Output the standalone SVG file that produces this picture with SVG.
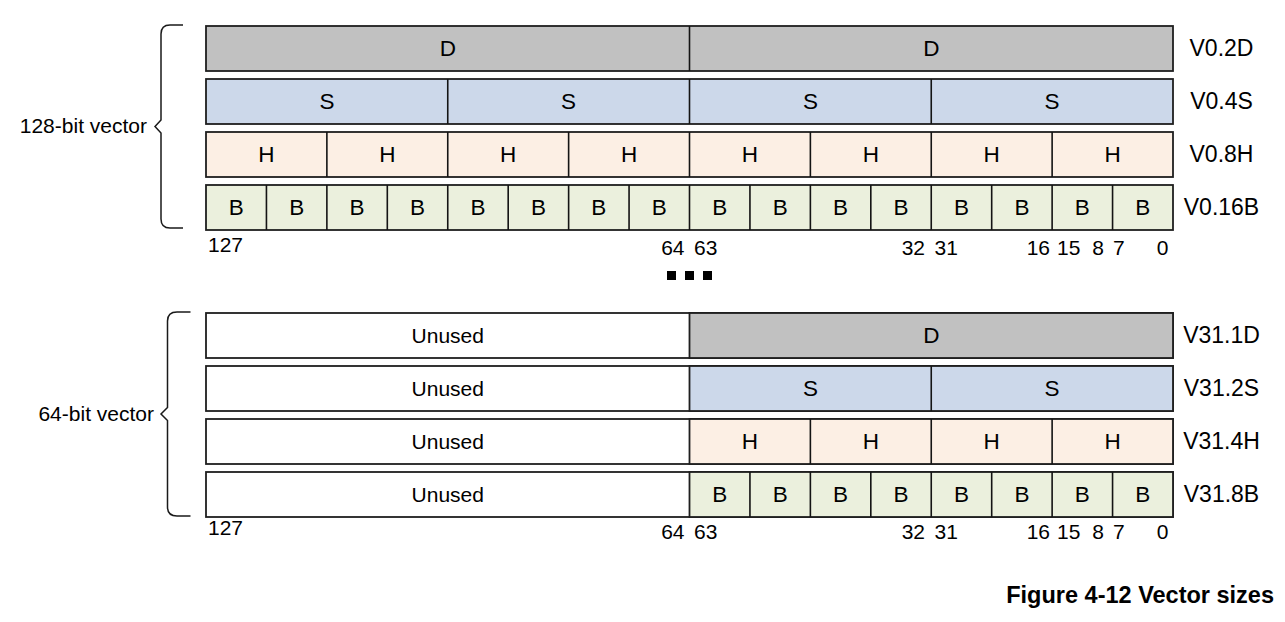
<svg xmlns="http://www.w3.org/2000/svg" width="1285" height="622" viewBox="0 0 1285 622">
<style>
text{font-family:"Liberation Sans",Arial,sans-serif;fill:#000}
.c{font-size:22.5px;text-anchor:middle}
.r{font-size:23px;text-anchor:middle}
.n{font-size:21px}
.e{text-anchor:end}
.box{stroke:#1e1e1e;stroke-width:1.8}
.dv{stroke:#141414;stroke-width:1.6}
.D{fill:#c1c1c1}.S{fill:#ccd8ea}.H{fill:#fcefe4}.B{fill:#ebf0dd}.U{fill:#fff}
.br{fill:none;stroke:#1a1a1a;stroke-width:1.5}
</style>
<rect width="1285" height="622" fill="#fff"/>
<g id="braces">
<path class="br" d="M183,25 L170,25 Q161,25 161,34 L161,120 L155,126.5 L161,133 L161,219 Q161,228 170,228 L183,228"/>
<path class="br" d="M190.5,312 L177,312 Q167.5,312 167.5,321 L167.5,407.5 L161,414 L167.5,420.5 L167.5,507 Q167.5,516 177,516 L190.5,516"/>
</g>
<text id="label-128" class="n e" x="147" y="133">128-bit vector</text>
<text id="label-64" class="n e" x="154" y="421">64-bit vector</text>
<g id="V0.2D">
<rect class="box D" x="206" y="26" width="967" height="45"/>
<line class="dv" x1="689.5" y1="26" x2="689.5" y2="71"/>
<text class="c" x="447.75" y="56">D</text><text class="c" x="931.25" y="56">D</text>
<text class="r" x="1221.5" y="56">V0.2D</text>
</g>
<g id="V0.4S">
<rect class="box S" x="206" y="79" width="967" height="45"/>
<path class="dv" d="M447.75,79V124M689.5,79V124M931.25,79V124"/>
<text class="c" x="326.9" y="109">S</text><text class="c" x="568.6" y="109">S</text><text class="c" x="810.4" y="109">S</text><text class="c" x="1052.1" y="109">S</text>
<text class="r" x="1221.5" y="109">V0.4S</text>
</g>
<g id="V0.8H">
<rect class="box H" x="206" y="132" width="967" height="45"/>
<path class="dv" d="M326.875,132V177M447.75,132V177M568.625,132V177M689.5,132V177M810.375,132V177M931.25,132V177M1052.125,132V177"/>
<text class="c" x="266.4" y="162">H</text><text class="c" x="387.3" y="162">H</text><text class="c" x="508.2" y="162">H</text><text class="c" x="629.1" y="162">H</text><text class="c" x="749.9" y="162">H</text><text class="c" x="870.8" y="162">H</text><text class="c" x="991.7" y="162">H</text><text class="c" x="1112.6" y="162">H</text>
<text class="r" x="1221.5" y="162">V0.8H</text>
</g>
<g id="V0.16B">
<rect class="box B" x="206" y="185" width="967" height="45"/>
<path class="dv" d="M266.44,185V230M326.875,185V230M387.31,185V230M447.75,185V230M508.19,185V230M568.625,185V230M629.06,185V230M689.5,185V230M749.94,185V230M810.375,185V230M870.81,185V230M931.25,185V230M991.69,185V230M1052.125,185V230M1112.56,185V230"/>
<text class="c" x="236.2" y="215">B</text><text class="c" x="296.7" y="215">B</text><text class="c" x="357.1" y="215">B</text><text class="c" x="417.5" y="215">B</text><text class="c" x="478" y="215">B</text><text class="c" x="538.4" y="215">B</text><text class="c" x="598.8" y="215">B</text><text class="c" x="659.3" y="215">B</text><text class="c" x="719.7" y="215">B</text><text class="c" x="780.2" y="215">B</text><text class="c" x="840.6" y="215">B</text><text class="c" x="901" y="215">B</text><text class="c" x="961.5" y="215">B</text><text class="c" x="1021.9" y="215">B</text><text class="c" x="1082.3" y="215">B</text><text class="c" x="1142.8" y="215">B</text>
<text class="r" x="1221.5" y="215">V0.16B</text>
</g>
<g id="bits-top" class="n">
<text x="208" y="252">127</text>
<text class="e" x="684.5" y="255">64</text><text x="694" y="255">63</text>
<text class="e" x="925" y="255">32</text><text x="934.5" y="255">31</text>
<text class="e" x="1050" y="255">16</text><text x="1057" y="255">15</text>
<text class="e" x="1104" y="255">8</text><text x="1113" y="255">7</text>
<text class="e" x="1168.5" y="255">0</text>
</g>
<g id="ellipsis">
<rect x="667" y="271" width="9" height="9"/><rect x="685" y="271" width="9" height="9"/><rect x="703" y="271" width="9" height="9"/>
</g>
<g id="V31.1D">
<rect class="box U" x="206" y="313" width="967" height="45"/>
<rect class="box D" x="689.5" y="313" width="483.5" height="45"/>
<text class="c" x="447.75" y="343" style="font-size:21px">Unused</text><text class="c" x="931.25" y="343">D</text>
<text class="r" x="1221.5" y="343">V31.1D</text>
</g>
<g id="V31.2S">
<rect class="box U" x="206" y="366" width="967" height="45"/>
<rect class="box S" x="689.5" y="366" width="483.5" height="45"/>
<path class="dv" d="M931.25,366V411"/>
<text class="c" x="447.75" y="396" style="font-size:21px">Unused</text><text class="c" x="810.4" y="396">S</text><text class="c" x="1052.1" y="396">S</text>
<text class="r" x="1221.5" y="396">V31.2S</text>
</g>
<g id="V31.4H">
<rect class="box U" x="206" y="419" width="967" height="45"/>
<rect class="box H" x="689.5" y="419" width="483.5" height="45"/>
<path class="dv" d="M810.375,419V464M931.25,419V464M1052.125,419V464"/>
<text class="c" x="447.75" y="449" style="font-size:21px">Unused</text><text class="c" x="749.9" y="449">H</text><text class="c" x="870.8" y="449">H</text><text class="c" x="991.7" y="449">H</text><text class="c" x="1112.6" y="449">H</text>
<text class="r" x="1221.5" y="449">V31.4H</text>
</g>
<g id="V31.8B">
<rect class="box U" x="206" y="472" width="967" height="45"/>
<rect class="box B" x="689.5" y="472" width="483.5" height="45"/>
<path class="dv" d="M749.94,472V517M810.375,472V517M870.81,472V517M931.25,472V517M991.69,472V517M1052.125,472V517M1112.56,472V517"/>
<text class="c" x="447.75" y="502" style="font-size:21px">Unused</text><text class="c" x="719.7" y="502">B</text><text class="c" x="780.2" y="502">B</text><text class="c" x="840.6" y="502">B</text><text class="c" x="901" y="502">B</text><text class="c" x="961.5" y="502">B</text><text class="c" x="1021.9" y="502">B</text><text class="c" x="1082.3" y="502">B</text><text class="c" x="1142.8" y="502">B</text>
<text class="r" x="1221.5" y="502">V31.8B</text>
</g>
<g id="bits-bottom" class="n">
<text x="208" y="535">127</text>
<text class="e" x="684.5" y="538.5">64</text><text x="694" y="538.5">63</text>
<text class="e" x="925" y="538.5">32</text><text x="934.5" y="538.5">31</text>
<text class="e" x="1050" y="538.5">16</text><text x="1057" y="538.5">15</text>
<text class="e" x="1104" y="538.5">8</text><text x="1113" y="538.5">7</text>
<text class="e" x="1168.5" y="538.5">0</text>
</g>
<text id="caption" x="1274" y="602.5" text-anchor="end" style="font-size:23.5px;font-weight:bold">Figure 4-12 Vector sizes</text>
</svg>
